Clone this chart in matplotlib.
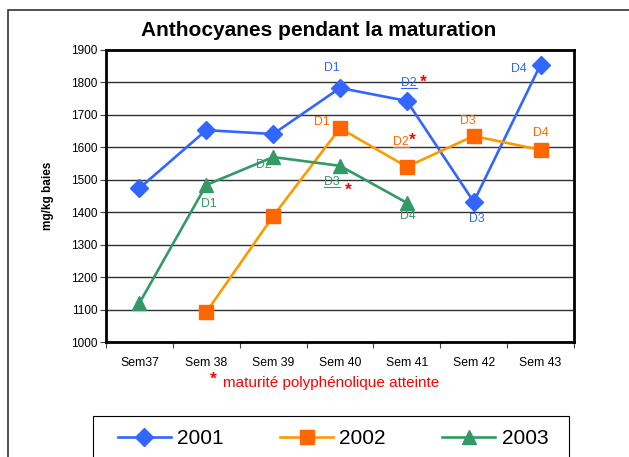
import matplotlib
matplotlib.use('Agg')
import matplotlib.pyplot as plt
from matplotlib.patches import Rectangle
from matplotlib.lines import Line2D

plt.rcParams['font.family'] = ['Liberation Sans', 'DejaVu Sans']

# donnees
semaines = ['Sem37', 'Sem 38', 'Sem 39', 'Sem 40', 'Sem 41', 'Sem 42', 'Sem 43']
x_2001 = [0, 1, 2, 3, 4, 5, 6]
y_2001 = [1474, 1653, 1641, 1783, 1743, 1432, 1855]
x_2002 = [1, 2, 3, 4, 5, 6]
y_2002 = [1092, 1388, 1659, 1540, 1635, 1592]
x_2003 = [0, 1, 2, 3, 4]
y_2003 = [1120, 1484, 1570, 1543, 1429]

# etiquettes D1..D4 (index du point, texte, souligne)
lab_2001 = [(3, 'D1', False), (4, 'D2', True), (5, 'D3', False), (6, 'D4', False)]
lab_2002 = [(3, 'D1', False), (4, 'D2', True), (5, 'D3', False), (6, 'D4', False)]
lab_2003 = [(1, 'D1', False), (2, 'D2', False), (3, 'D3', True), (4, 'D4', False)]

c01, c02l, c02m, c03 = '#3366FF', '#FF9900', '#FF6600', '#339966'

fig = plt.figure(figsize=(6.29, 4.57), dpi=100)
ax = fig.add_axes([106 / 629, 1 - 342 / 457, 468 / 629, 292 / 457])

ax.plot(x_2001, y_2001, color=c01, lw=1.9, marker='D', ms=9, mfc=c01, mec=c01, label='2001', zorder=3)
ax.plot(x_2002, y_2002, color=c02l, lw=1.9, marker='s', ms=10, mfc=c02m, mec=c02m, label='2002', zorder=3)
ax.plot(x_2003, y_2003, color=c03, lw=1.9, marker='^', ms=10, mfc=c03, mec=c03, label='2003', zorder=3)

ax.set_xlim(-0.5, 6.5)
ax.set_ylim(1000, 1900)
ax.set_yticks(range(1000, 2000, 100))
ax.yaxis.grid(True, color='#303030', lw=1)
ax.set_axisbelow(True)
ax.set_xticks(range(7))
ax.set_xticklabels(semaines)
ax.set_xticks([i - 0.5 for i in range(8)], minor=True)
ax.tick_params(axis='x', which='major', length=0, pad=11, labelsize=8.8)
ax.tick_params(axis='x', which='minor', length=4, width=0.8, color='#444444')
ax.tick_params(axis='y', length=4, width=0.8, color='#444444', labelsize=8.5, pad=2)
for s in ax.spines.values():
    s.set_linewidth(2)
    s.set_color('black')
ax.set_ylabel('mg/kg baies', fontsize=8.5, fontweight='bold', labelpad=12)

souligner = []


def annote(xs, ys, labs, col, offs):
    for (i, t, u), (dx, dy) in zip(labs, offs):
        k = xs.index(i)
        a = ax.annotate(t, (xs[k], ys[k]), xytext=(dx, dy), textcoords='offset pixels',
                        ha='center', va='center', color=col, fontsize=8.8)
        if u:
            souligner.append((a, col))


annote(x_2001, y_2001, lab_2001, c01, [(-8, 20), (2, 18), (3, -17), (-22, -4)])
annote(x_2002, y_2002, lab_2002, c02m, [(-18, 6), (-6, 25), (-6, 15), (0, 17)])
annote(x_2003, y_2003, lab_2003, c03, [(3, -19), (-9, -8), (-8, -16), (1, -13)])

# etoiles rouges
for xs, ys, i, dx, dy in [(x_2001, y_2001, 4, 16, 19), (x_2002, y_2002, 4, 5, 27), (x_2003, y_2003, 3, 8, -24)]:
    k = xs.index(i)
    ax.annotate('*', (xs[k], ys[k]), xytext=(dx, dy), textcoords='offset pixels',
                ha='center', va='center', color='red', fontsize=12.5, fontweight='bold')

fig.text(0.506, 0.934, 'Anthocyanes pendant la maturation', ha='center', va='center',
         fontsize=15, fontweight='bold')
fig.text(0.355, 0.161, 'maturité polyphénolique atteinte', ha='left', va='center',
         fontsize=11, color='red')
fig.text(0.339, 0.170, '*', ha='center', va='center', fontsize=12.5, color='red', fontweight='bold')

# cadre exterieur + cadre de legende
fig.patches.append(Rectangle((8 / 629, -0.1), 1.1, 1 - 10 / 457 + 0.1, transform=fig.transFigure,
                             fill=False, edgecolor='#333333', lw=1.2))
fig.patches.append(Rectangle((93 / 629, -0.1), 476 / 629, 1 - 416 / 457 + 0.1, transform=fig.transFigure,
                             fill=False, edgecolor='black', lw=0.8))

leg = fig.legend(loc='center', bbox_to_anchor=(333 / 629, 1 - 439 / 457), ncol=3, fontsize=15,
                 frameon=False, handlelength=2.55, handletextpad=0.3, columnspacing=2.7)

# soulignement des etiquettes
fig.canvas.draw()
r = fig.canvas.get_renderer()
inv = fig.transFigure.inverted()
for a, col in souligner:
    bb = a.get_window_extent(r)
    (x0, y0), (x1, _) = inv.transform([(bb.x0, bb.y0 + 1), (bb.x1, bb.y0 + 1)])
    fig.add_artist(Line2D([x0, x1], [y0, y0], color=col, lw=0.8, transform=fig.transFigure))

fig.savefig('out.png', dpi=100)
